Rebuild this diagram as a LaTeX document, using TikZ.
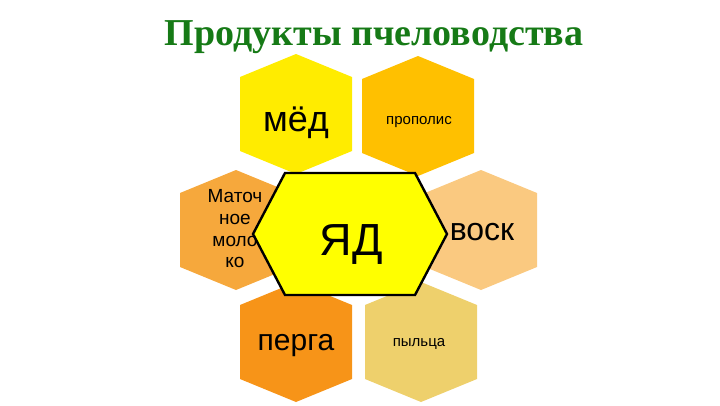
\documentclass[tikz,border=0pt]{standalone}
\usepackage{fontspec}
\setmainfont{Liberation Serif}
\newfontfamily\hexfont{Liberation Sans}

\definecolor{titlegreen}{RGB}{22,122,22}
\definecolor{honeycol}{RGB}{255,236,0}
\definecolor{propoliscol}{RGB}{255,192,0}
\definecolor{jellycol}{RGB}{246,168,60}
\definecolor{waxcol}{RGB}{250,201,128}
\definecolor{pergacol}{RGB}{247,148,24}
\definecolor{pollencol}{RGB}{238,208,108}
\definecolor{venomcol}{RGB}{255,255,0}

% one pointy-top honeycomb cell round a named centre
\newcommand{\hexcell}[2]{\fill[#2] (#1) ++(0,-60) -- ++(56,23) -- ++(0,74) -- ++(-56,23) -- ++(-56,-23) -- ++(0,-74) -- cycle;}

\begin{document}
\begin{tikzpicture}[x=1pt, y=-1pt]
        \tikzstyle{every node}=[inner sep=0pt, text=black]
        \tikzstyle{cell text}=[anchor=base]
        \useasboundingbox (0,0) rectangle (720,405);

        \node (title) [anchor=base, text=titlegreen, font=\bfseries\fontsize{38}{40}\selectfont] at (374,45) {Продукты пчеловодства};

        \coordinate (c1) at (296,114);
        \coordinate (c2) at (418,116);
        \coordinate (c3) at (236,230);
        \coordinate (c4) at (481,230);
        \coordinate (c5) at (296,342);
        \coordinate (c6) at (421,342);

        \hexcell{c1}{honeycol}
        \hexcell{c2}{propoliscol}
        \hexcell{c3}{jellycol}
        \hexcell{c4}{waxcol}
        \hexcell{c5}{pergacol}
        \hexcell{c6}{pollencol}

        \draw [line width=2.4pt, fill=venomcol, line join=miter] (253,234) -- (285,173) -- (415,173) -- (447,234) -- (415,295) -- (285,295) -- cycle;

        \node (t1) [cell text, font=\hexfont\fontsize{36}{40}\selectfont] at (296,131) {мёд};
        \node (t2) [cell text, font=\hexfont\fontsize{15}{18}\selectfont] at (419,124) {прополис};
        \node (t3) [align=center, font=\hexfont\fontsize{19}{21.7}\selectfont] at (235,229) {Маточ\\ное\\моло\\ко};
        \node (t4) [cell text, font=\hexfont\fontsize{32}{36}\selectfont] at (482,240) {воск};
        \node (t5) [cell text, font=\hexfont\fontsize{30}{34}\selectfont] at (296,350) {перга};
        \node (t6) [cell text, font=\hexfont\fontsize{15}{18}\selectfont] at (419,346) {пыльца};
        \node (t7) [cell text, font=\hexfont\fontsize{45}{50}\selectfont] at (351,255) {ЯД};
    \end{tikzpicture}
\end{document}
